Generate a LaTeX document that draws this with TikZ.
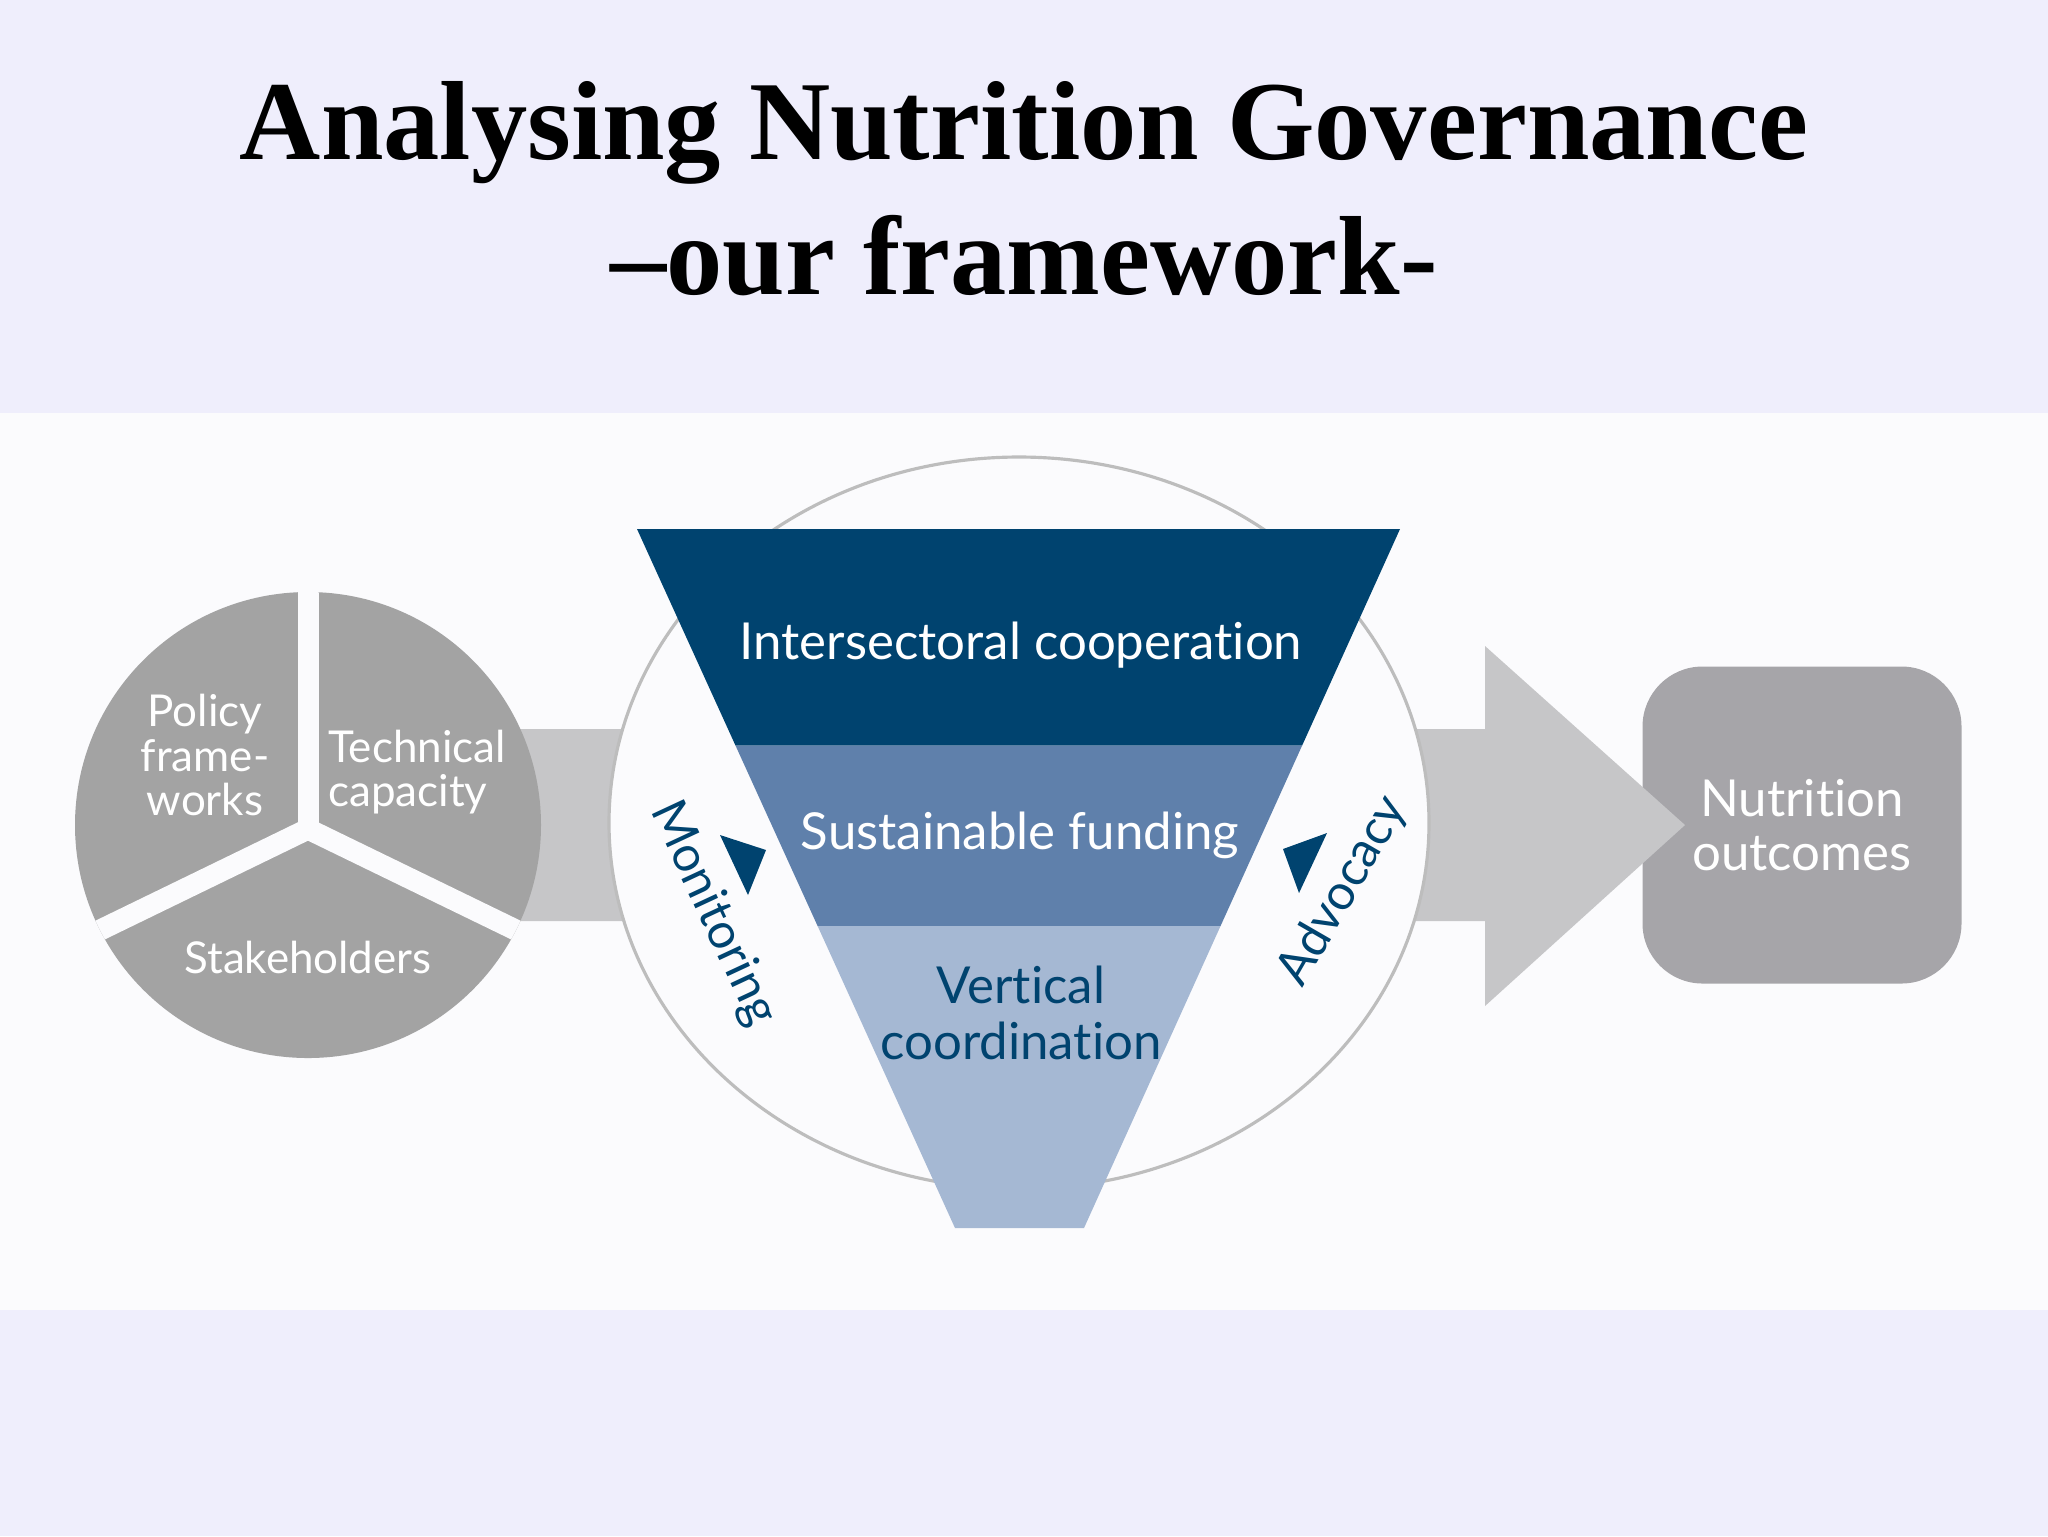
\documentclass[tikz,border=0pt]{standalone}
\usepackage{fontspec}
\setmainfont{Liberation Serif}
\newfontfamily\labelfont{Lato}[Ligatures={NoCommon,NoDiscretionary,NoContextual}]
\usetikzlibrary{positioning, calc}

\definecolor{bandcol}{HTML}{EFEEFC}
\definecolor{panelcol}{HTML}{FBFBFD}
\definecolor{piecol}{HTML}{A3A3A3}
\definecolor{arrowcol}{HTML}{C6C6C8}
\definecolor{boxcol}{HTML}{A6A5A9}
\definecolor{ringcol}{HTML}{BDBDBD}
\definecolor{navy}{HTML}{00436F}
\definecolor{midblue}{HTML}{5F80AB}
\definecolor{paleblue}{HTML}{A5B8D3}

\tikzset{
  titletext/.style={font=\bfseries\fontsize{32}{38}\selectfont, inner sep=0pt, anchor=base},
  pielabel/.style={font=\labelfont\fontsize{12.5}{12.6}\selectfont, text=white, inner sep=0pt},
  funnellabel/.style={font=\labelfont\fontsize{14.5}{16}\selectfont, text=white, align=center, inner sep=0pt},
  sidelabel/.style={font=\labelfont\fontsize{14}{16}\selectfont, text=navy, inner sep=0pt},
  outbox/.style={fill=boxcol, rounded corners=6mm, minimum width=31.9mm, minimum height=31.7mm,
                 font=\labelfont\fontsize{14.5}{15.2}\selectfont, text=white, align=center},
}

\begin{document}
\begin{tikzpicture}[x=0.1mm, y=-0.1mm]
  \fill[bandcol] (0,0) rectangle (2048,1536);
  \fill[panelcol] (0,413) rectangle (2048,1310);
  \useasboundingbox (0,0) rectangle (2048,1536);

  \node[titletext] (title1) at (1024,159) {Analysing Nutrition Governance};
  \node[titletext] (title2) at (1024,294) {–our framework-};

  \node[outbox] (outcome) at (1802,825) {Nutrition\\outcomes};
  \fill[arrowcol] (308,729) -- (1485,729) -- (1485,646) -- (1685,825)
                 -- (1485,1006) -- (1485,921) -- (308,921) -- cycle;

  \coordinate (pie) at (308,829);
  \fill[piecol] (308,825) circle [radius=233];
  \begin{scope}
    \clip (308,825) circle [radius=233];
    \draw[panelcol, line width=2.1mm] (pie) -- ++(0,-300);
    \draw[panelcol, line width=2.1mm] (pie) -- ++(-360,175);
    \draw[panelcol, line width=2.1mm] (pie) -- ++(360,175);
  \end{scope}
  \node[pielabel, align=center] (policy) at (205,755) {Policy\\frame-\\works};
  \node[pielabel, align=left] (technical) at (417,772) {Technical\\capacity};
  \node[pielabel] (stake) at (308,957) {Stakeholders};

  \fill[panelcol, draw=ringcol, line width=0.9pt] (1019,823) ellipse [x radius=410, y radius=366];

  \coordinate (tl) at (637,529);
  \coordinate (tr) at (1400,529);
  \coordinate (bl) at (955,1228);
  \coordinate (br) at (1084,1228);
  \fill[navy] (tl) -- (tr) -- ($(tr)!0.31!(br)$) -- ($(tl)!0.31!(bl)$) -- cycle;
  \fill[midblue] ($(tl)!0.31!(bl)$) -- ($(tr)!0.31!(br)$) -- ($(tr)!0.568!(br)$) -- ($(tl)!0.568!(bl)$) -- cycle;
  \fill[paleblue] ($(tl)!0.568!(bl)$) -- ($(tr)!0.568!(br)$) -- (br) -- (bl) -- cycle;

  \node[funnellabel] (coop) at (1021,645) {Intersectoral cooperation};
  \node[funnellabel] (funding) at (1020,835) {Sustainable funding};
  \node[funnellabel, text=navy] (vertical) at (1021,1013) {Vertical\\coordination};

  \node[sidelabel, rotate=-65] (monitor) at (713,914) {Monitoring};
  \node[sidelabel, rotate=60] (advocacy) at (1343,891) {Advocacy};
  \fill[navy] (720,835) -- (766,850) -- (748,895) -- cycle;
  \fill[navy] (1283,849) -- (1327,833) -- (1299,893) -- cycle;
\end{tikzpicture}
\end{document}
